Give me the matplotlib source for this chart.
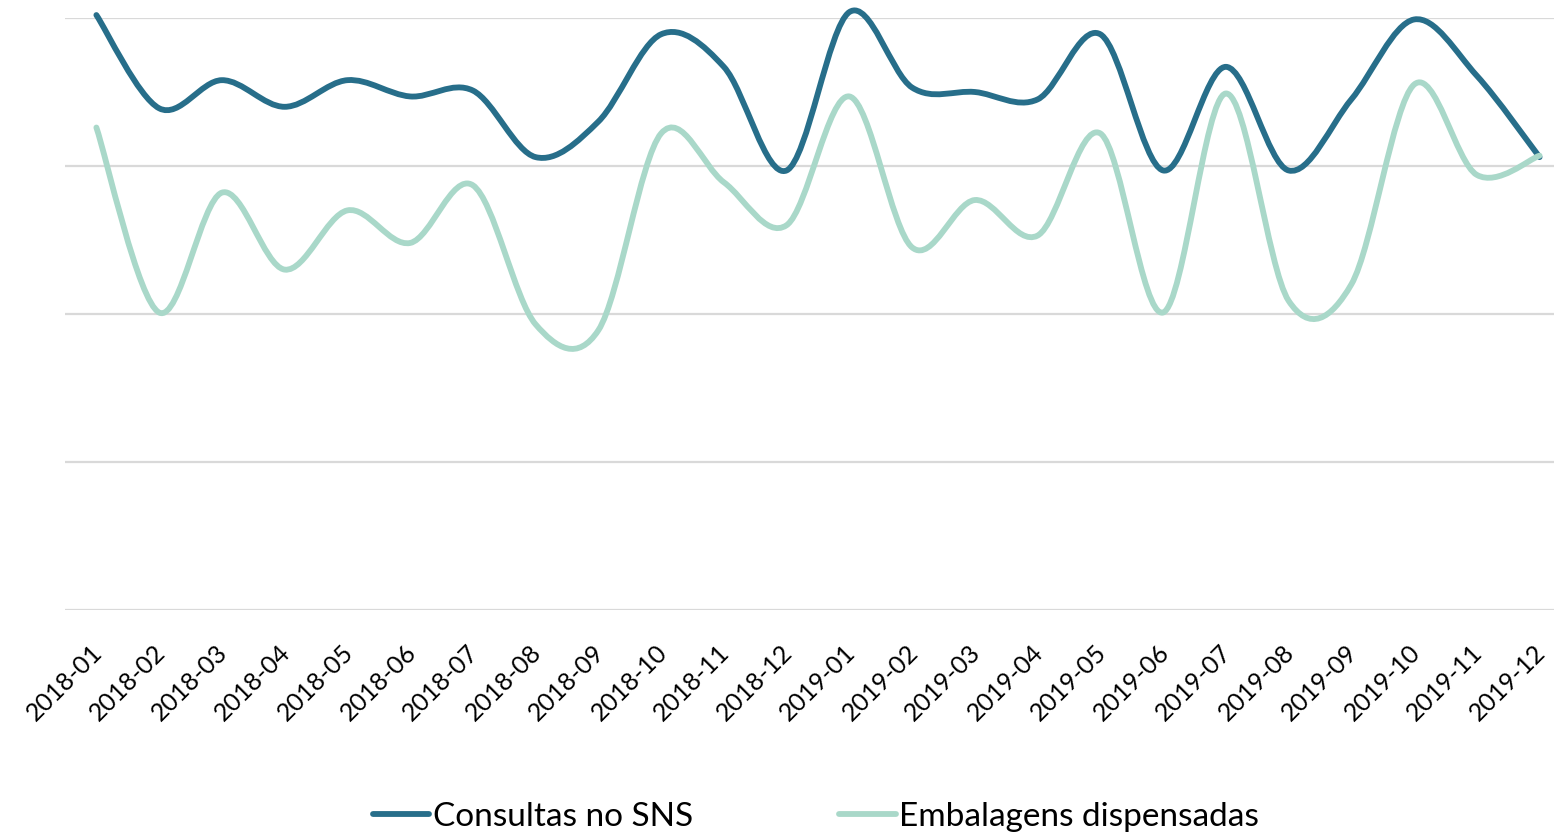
import numpy as np
import matplotlib
matplotlib.use("Agg")
import matplotlib.pyplot as plt
import matplotlib.transforms as mtransforms
from matplotlib.path import Path
from matplotlib.patches import PathPatch
from matplotlib.lines import Line2D

months = ["2018-01", "2018-02", "2018-03", "2018-04", "2018-05", "2018-06",
          "2018-07", "2018-08", "2018-09", "2018-10", "2018-11", "2018-12",
          "2019-01", "2019-02", "2019-03", "2019-04", "2019-05", "2019-06",
          "2019-07", "2019-08", "2019-09", "2019-10", "2019-11", "2019-12"]

consultas = [4.02, 3.39, 3.58, 3.40, 3.58, 3.47, 3.51, 3.06, 3.30, 3.89, 3.67, 2.97,
             4.04, 3.53, 3.50, 3.45, 3.89, 2.97, 3.67, 2.97, 3.45, 3.99, 3.61, 3.06]

embalagens = [3.26, 2.01, 2.82, 2.30, 2.70, 2.48, 2.87, 1.93, 1.89, 3.22, 2.89, 2.60,
              3.47, 2.45, 2.77, 2.53, 3.22, 2.01, 3.49, 2.09, 2.20, 3.55, 2.94, 3.07]

series_names = ["Consultas no SNS", "Embalagens dispensadas"]
colors = ["#276E8A", "#A9D8C9"]

plt.rcParams['font.family'] = ['Lato', 'DejaVu Sans']


def smooth_path(xs, ys):
    # Excel-style smoothed line: cubic Bezier segments (Catmull-Rom control points)
    pts = np.column_stack([xs, ys]).astype(float)
    n = len(pts)
    verts = [pts[0]]
    codes = [Path.MOVETO]
    for i in range(n - 1):
        p0 = pts[i - 1] if i > 0 else pts[i]
        p1 = pts[i]
        p2 = pts[i + 1]
        p3 = pts[i + 2] if i + 2 < n else pts[i + 1]
        c1 = p1 + (p2 - p0) / 6.0
        c2 = p2 - (p3 - p1) / 6.0
        verts += [c1, c2, p2]
        codes += [Path.CURVE4] * 3
    return Path(verts, codes)


fig = plt.figure(figsize=(15.54, 8.32), dpi=100)
ax = fig.add_axes([65 / 1554, 1 - 610 / 832, 1 - 65 / 1554, (610 - 18) / 832])

x = np.arange(len(months))
for vals, col in zip([consultas, embalagens], colors):
    patch = PathPatch(smooth_path(x, vals), facecolor="none", edgecolor=col,
                      lw=4.2, capstyle="round", joinstyle="round", zorder=3,
                      clip_on=False)
    ax.add_patch(patch)

ax.set_xlim(-0.5, 23.23)
ax.set_ylim(0, 4)
ax.set_yticks([0, 1, 2, 3, 4])
ax.set_yticklabels([])
ax.tick_params(axis="y", length=0)
ax.tick_params(axis="x", length=0, pad=22)
ax.yaxis.grid(True, color="#D9D9D9", lw=1.6)
ax.set_axisbelow(True)
for s in ax.spines.values():
    s.set_visible(False)

ax.set_xticks(x)
ax.set_xticklabels(months, rotation=45, ha="right", va="top",
                   rotation_mode="anchor", fontsize=18)
shift = mtransforms.ScaledTranslation(-6 / 100, 0, fig.dpi_scale_trans)
for lbl in ax.get_xticklabels():
    lbl.set_transform(lbl.get_transform() + shift)

handles = [Line2D([], [], color=c, lw=4.2, solid_capstyle="round") for c in colors]
fig.legend(handles, series_names, loc="center", bbox_to_anchor=(0.525, 0.018),
           ncol=2, frameon=False, fontsize=24, handlelength=1.7,
           handletextpad=0.1, columnspacing=4.4)

fig.savefig("out.png", dpi=100)
